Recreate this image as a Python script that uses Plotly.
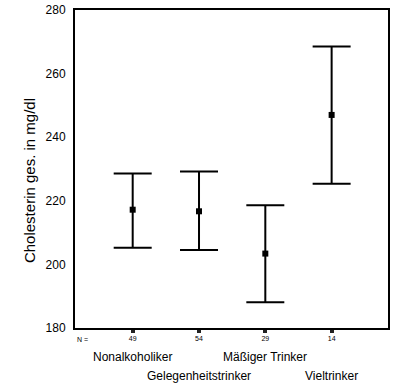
import plotly.graph_objects as go

categories = ["Nonalkoholiker", "Gelegenheitstrinker", "Mäßiger Trinker", "Vieltrinker"]
n_values = [49, 54, 29, 14]
means = [217.2, 216.7, 203.4, 247.0]
upper = [228.6, 229.2, 218.6, 268.5]
lower = [205.2, 204.5, 188.1, 225.4]
y_ticks = [180, 200, 220, 240, 260, 280]

xpos = list(range(len(categories)))
err_plus = [u - m for u, m in zip(upper, means)]
err_minus = [m - l for m, l in zip(means, lower)]

font_family = "Liberation Sans, Arial, sans-serif"

fig = go.Figure()
fig.add_trace(go.Scatter(
    x=xpos, y=means, mode="markers",
    marker=dict(symbol="square", size=6, color="black"),
    error_y=dict(type="data", symmetric=False, array=err_plus, arrayminus=err_minus,
                 color="black", thickness=2, width=19),
    showlegend=False, hoverinfo="skip",
))

annotations = []
annotations.append(dict(x=-0.87, y=-0.035, xref="x", yref="paper", text="N =",
                        showarrow=False, font=dict(size=7, family=font_family, color="black"),
                        xanchor="left", yanchor="middle"))
for i, c in enumerate(categories):
    yy = -0.092 if i % 2 == 0 else -0.152
    annotations.append(dict(x=i, y=yy, xref="x", yref="paper", text=c, showarrow=False,
                            font=dict(size=12, family=font_family, color="black"),
                            xanchor="center", yanchor="middle"))
annotations.append(dict(x=-0.146, y=0.463, xref="paper", yref="paper",
                        text="Cholesterin ges. in mg/dl", textangle=-90, showarrow=False,
                        font=dict(size=15, family=font_family, color="black"),
                        xanchor="center", yanchor="middle"))

fig.update_layout(
    width=393, height=383,
    margin=dict(l=75, r=3, t=5, b=55),
    paper_bgcolor="white", plot_bgcolor="white",
    font=dict(family=font_family, color="black"),
    annotations=annotations,
    xaxis=dict(range=[-0.87, 3.85], tickmode="array", tickvals=xpos,
               ticktext=[str(n) for n in n_values], tickfont=dict(size=7, color="black"),
               ticks="outside", ticklen=3, tickwidth=4, tickcolor="#222",
               showline=True, linecolor="black", linewidth=2, mirror=True,
               showgrid=False, zeroline=False, fixedrange=True),
    yaxis=dict(range=[180, 280], tickmode="array", tickvals=y_ticks,
               tickfont=dict(size=12, color="black"), ticks="", ticklabelstandoff=5,
               ticklabeloverflow="allow",
               showline=True, linecolor="black", linewidth=2, mirror=True,
               showgrid=False, zeroline=False, fixedrange=True),
)

fig.write_html(
    "out.html",
    config={"displayModeBar": False, "responsive": False},
    post_script="document.body.style.margin='0';document.body.style.overflow='hidden';",
)
